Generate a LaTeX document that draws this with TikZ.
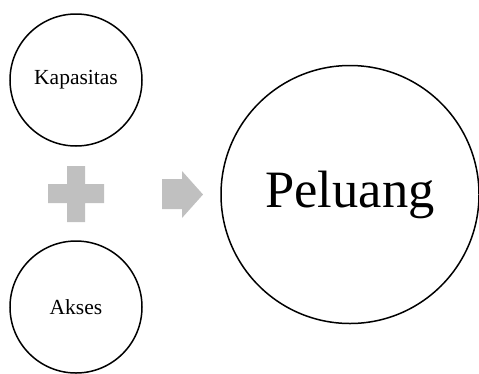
\documentclass[tikz,border=0pt]{standalone}
\usepackage{fontspec}
\setmainfont{Liberation Serif}
\begin{document}
\begin{tikzpicture}[x=1pt,y=-1pt,
  circ/.style={draw=black,line width=1.5pt,circle,inner sep=0pt},
  small/.style={font=\fontsize{21.5}{24}\selectfont},
  big/.style={font=\fontsize{52.5}{58}\selectfont}]
\definecolor{shapegray}{RGB}{192,192,192}
\useasboundingbox (0,0) rectangle (479,373);
\node[circ,minimum size=132pt,small] (kap) at (76,80) {Kapasitas};
\node[circ,minimum size=132pt,small] (aks) at (76,307) {Akses};
\node[circ,minimum size=258pt,big] (pel) at (350,194.5) {Peluang};
\fill[shapegray] (67,166) -- (85,166) -- (85,184) -- (104,184) -- (104,203) -- (85,203) -- (85,222) -- (67,222) -- (67,203) -- (48,203) -- (48,184) -- (67,184) -- cycle;
\fill[shapegray] (162,179) -- (182,179) -- (182,171) -- (203,194.5) -- (182,218) -- (182,209) -- (162,209) -- cycle;
\end{tikzpicture}
\end{document}
